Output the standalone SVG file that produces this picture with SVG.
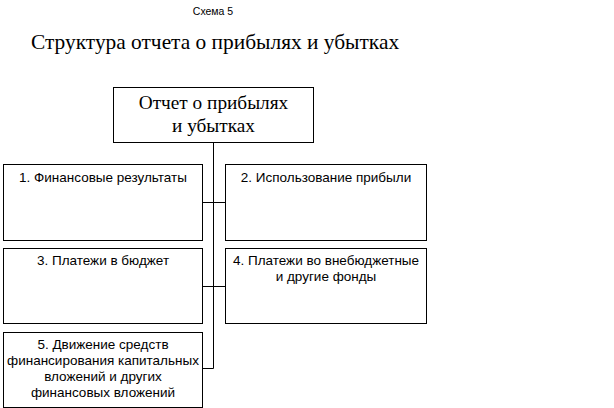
<svg xmlns="http://www.w3.org/2000/svg" width="614" height="408" viewBox="0 0 614 408">
<style>
.box{fill:#fff;stroke:#000;stroke-width:1}
.lbl{font-family:"Liberation Sans",Arial,sans-serif;font-size:13.5px;fill:#000;text-anchor:middle}
.ser{font-family:"Liberation Serif","Times New Roman",serif;fill:#000}
.con{stroke:#000;stroke-width:1;fill:none}
</style>
<rect width="614" height="408" fill="#fff"/>
<text x="213" y="15" font-family="Liberation Sans, Arial, sans-serif" font-size="10.5" text-anchor="middle">Схема 5</text>
<text class="ser" x="31" y="49" font-size="21.4">Структура отчета о прибылях и убытках</text>
<g id="connectors">
<path class="con" d="M213.5 142V368.5M202 202.5H225M202 286.5H225M202 368.5H213.5"/>
</g>
<g id="root">
<rect class="box" x="113.5" y="87.5" width="200" height="55"/>
<text class="ser" x="213.5" y="109" font-size="19.3" text-anchor="middle">Отчет о прибылях</text>
<text class="ser" x="213.5" y="132" font-size="19.3" text-anchor="middle">и убытках</text>
</g>
<g id="n1">
<rect class="box" x="3.5" y="164.5" width="199" height="76"/>
<text class="lbl" x="103" y="182">1. Финансовые результаты</text>
</g>
<g id="n2">
<rect class="box" x="225.5" y="164.5" width="201" height="76"/>
<text class="lbl" x="326" y="182">2. Использование прибыли</text>
</g>
<g id="n3">
<rect class="box" x="3.5" y="248.5" width="199" height="75"/>
<text class="lbl" x="103" y="265">3. Платежи в бюджет</text>
</g>
<g id="n4">
<rect class="box" x="225.5" y="248.5" width="201" height="75"/>
<text class="lbl" x="326" y="265">4. Платежи во внебюджетные</text>
<text class="lbl" x="326" y="281">и другие фонды</text>
</g>
<g id="n5">
<rect class="box" x="3.5" y="332.5" width="199" height="75"/>
<text class="lbl" x="103" y="349">5. Движение средств</text>
<text class="lbl" x="103" y="365">финансирования капитальных</text>
<text class="lbl" x="103" y="381">вложений и других</text>
<text class="lbl" x="103" y="397">финансовых вложений</text>
</g>
</svg>
